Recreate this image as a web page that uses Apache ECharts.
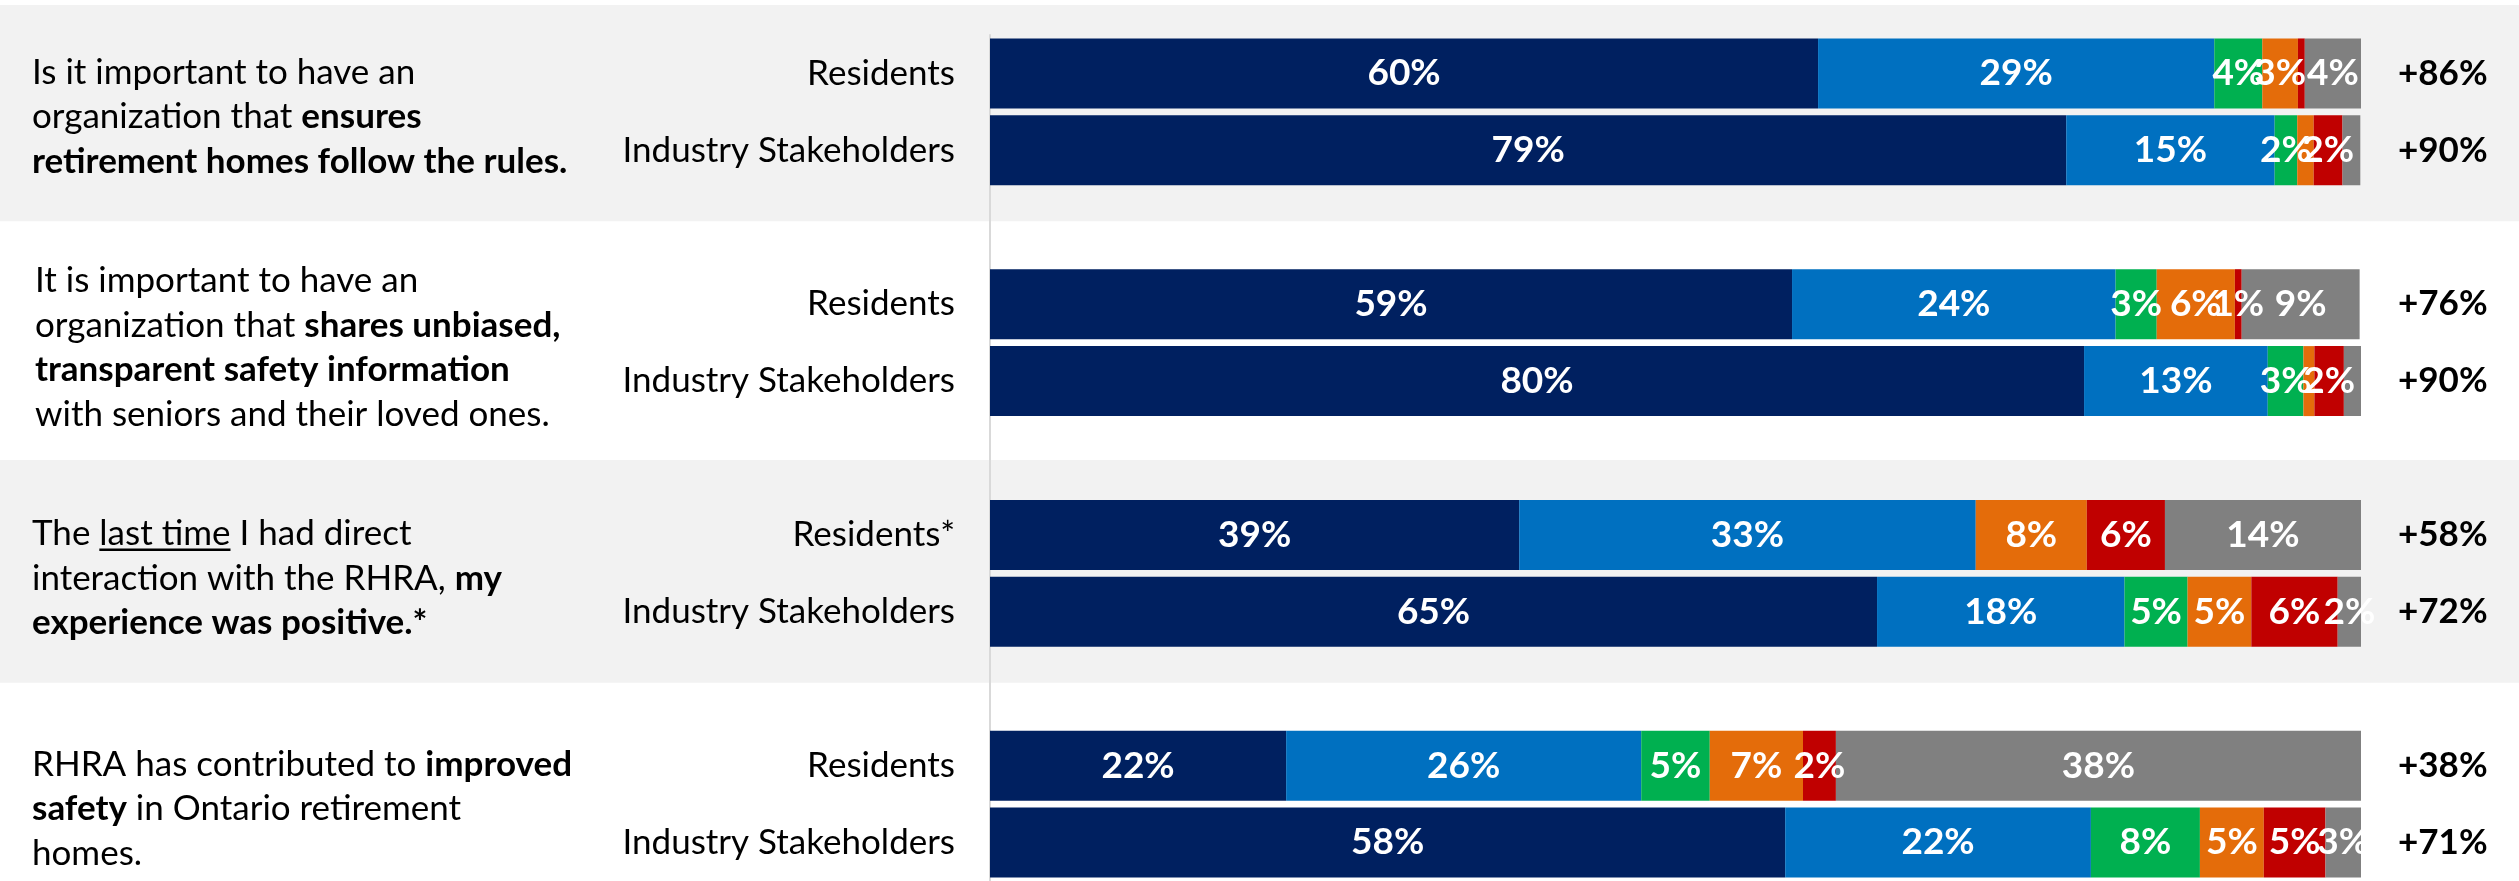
<!DOCTYPE html>
<html>
<head>
<meta charset="utf-8">
<title>RHRA survey results</title>
<script src="https://cdn.jsdelivr.net/npm/echarts@6/dist/echarts.min.js"></script>
<style>
  html, body { margin: 0; padding: 0; background: #ffffff; }
  #chart { width: 2519px; height: 881px; }
</style>
</head>
<body>
<div id="chart"></div>
<script>
// one entry per bar, top to bottom
var rowLabels = ["Residents", "Industry Stakeholders", "Residents", "Industry Stakeholders",
  "Residents*", "Industry Stakeholders", "Residents", "Industry Stakeholders"];
var strongAgree = [60.4, 78.5, 58.5, 79.8, 38.6, 64.7, 21.6, 58.0];
var agree = [28.9, 15.2, 23.6, 13.4, 33.3, 18.05, 25.9, 22.3];
var neutral = [3.5, 1.65, 3.0, 2.6, 0, 4.6, 5.0, 7.95];
var disagree = [2.6, 1.2, 5.7, 0.8, 8.1, 4.65, 6.8, 4.66];
var strongDisagree = [0.5, 2.1, 0.5, 2.15, 5.7, 6.3, 2.4, 4.5];
var dontKnow = [4.1, 1.3, 8.6, 1.3, 14.3, 1.7, 38.3, 2.65];
var netScores = [86, 90, 76, 90, 58, 72, 38, 71];
// slivers whose label was left off in the original
var hiddenLabels = {
  disagree: [1, 3],
  strongDisagree: [0],
  dontKnow: [1, 3]
};
var questions = [
  "Is it important to have an\norganization that {b|ensures}\n{b|retirement homes follow the rules.}",
  "It is important to have an\norganization that {b|shares unbiased,}\n{b|transparent safety information}\nwith seniors and their loved ones.",
  "The {u|last time} I had direct\ninteraction with the RHRA, {b|my}\n{b|experience was positive.*}",
  "RHRA has contributed to {b|improved}\n{b|safety} in Ontario retirement\nhomes."
];

var FONT = "Lato";
var TEXT_SIZE = 35;
var LINE_H = 44.5;

// two bars per question, an empty slot between questions
function slotOf(row) { return row + Math.floor(row / 2); }
function rowOf(slot) { return slot - Math.floor(slot / 3); }
var slotCount = slotOf(rowLabels.length - 1) + 1;
var categories = [];
for (var s = 0; s < slotCount; s++) categories.push("slot" + s);

function spread(values, key) {
  var out = [];
  for (var s = 0; s < slotCount; s++) out.push(null);
  values.forEach(function (v, i) {
    var item = { value: v };
    if ((hiddenLabels[key] || []).indexOf(i) >= 0 || !v) {
      item.label = { show: false };
    }
    out[slotOf(i)] = item;
  });
  return out;
}

var seriesDefs = [
  { key: "strongAgree", data: strongAgree, color: "#002060" },
  { key: "agree", data: agree, color: "#0070C0" },
  { key: "neutral", data: neutral, color: "#00B050" },
  { key: "disagree", data: disagree, color: "#E46C0A" },
  { key: "strongDisagree", data: strongDisagree, color: "#C00000" },
  { key: "dontKnow", data: dontKnow, color: "#808080" }
];

var chart = echarts.init(document.getElementById("chart"), null, { renderer: "canvas" });

chart.setOption({
  backgroundColor: "#ffffff",
  animation: false,
  grid: {
    left: 990,
    right: 158,
    top: 35,
    height: 847
  },
  xAxis: {
    type: "value",
    min: 0,
    max: 100,
    show: false
  },
  yAxis: [
    {
      type: "category",
      inverse: true,
      data: categories,
      axisTick: { show: false },
      axisLine: {
        show: true,
        lineStyle: { color: "#d9d9d9", width: 2 }
      },
      axisLabel: {
        margin: 35,
        color: "#000000",
        fontFamily: FONT,
        fontSize: TEXT_SIZE,
        interval: 0,
        formatter: function (val, idx) {
          return idx % 3 === 2 ? "" : rowLabels[rowOf(idx)];
        }
      }
    },
    {
      type: "category",
      inverse: true,
      position: "right",
      data: categories,
      axisTick: { show: false },
      axisLine: { show: false },
      axisLabel: {
        margin: 37,
        color: "#000000",
        fontFamily: FONT,
        fontWeight: "bold",
        fontSize: 35,
        interval: 0,
        formatter: function (val, idx) {
          return idx % 3 === 2 ? "" : "+" + netScores[rowOf(idx)] + "%";
        }
      }
    }
  ],
  series: seriesDefs.map(function (d) {
    return {
      name: d.key,
      type: "bar",
      stack: "total",
      yAxisIndex: 0,
      barWidth: 70,
      itemStyle: { color: d.color },
      label: {
        show: true,
        position: "inside",
        color: "#ffffff",
        fontFamily: FONT,
        fontWeight: "bold",
        fontSize: 37,
        formatter: function (p) {
          return Math.round(p.value) + "%";
        }
      },
      data: spread(d.data, d.key)
    };
  })
});

// question panels and text, placed from the category axis
var ctx = document.createElement("canvas").getContext("2d");
function textWidth(str, weight) {
  ctx.font = (weight || "normal") + " " + TEXT_SIZE + "px " + FONT;
  return ctx.measureText(str).width;
}
function yAt(slot) {
  return chart.convertToPixel({ yAxisIndex: 0 }, slot);
}

var graphics = [];
questions.forEach(function (q, g) {
  var first = slotOf(g * 2), last = slotOf(g * 2 + 1);
  var cy = (yAt(first) + yAt(last)) / 2 + 5;
  if (g % 2 === 0) {
    var top = Math.max(5, yAt(first) - 75);
    graphics.push({
      type: "rect",
      z: -10,
      shape: { x: 0, y: top, width: 2519, height: yAt(last) + 71 - top },
      style: { fill: "#f2f2f2" }
    });
  }
  var tx = g === 1 ? 35 : 32;
  graphics.push({
    type: "text",
    z: 5,
    x: tx,
    y: cy,
    style: {
      text: q,
      fill: "#000000",
      fontFamily: FONT,
      fontSize: TEXT_SIZE,
      lineHeight: LINE_H,
      align: "left",
      verticalAlign: "middle",
      textAlign: "left",
      textVerticalAlign: "middle",
      rich: {
        b: { fontWeight: "bold", fontFamily: FONT, fontSize: TEXT_SIZE, lineHeight: LINE_H, fill: "#000000" },
        u: { fontFamily: FONT, fontSize: TEXT_SIZE, lineHeight: LINE_H, fill: "#000000" }
      }
    }
  });
  // underline for "last time"
  if (q.indexOf("{u|") >= 0) {
    var lines = q.split("\n").length;
    var line1 = cy - (lines - 1) / 2 * LINE_H;
    var x0 = tx + textWidth("The ");
    var x1 = x0 + textWidth("last time");
    graphics.push({
      type: "line",
      z: 5,
      shape: { x1: x0, y1: line1 + 16, x2: x1, y2: line1 + 16 },
      style: { stroke: "#000000", lineWidth: 2.5 }
    });
  }
});

chart.setOption({ graphic: graphics });
</script>
</body>
</html>
